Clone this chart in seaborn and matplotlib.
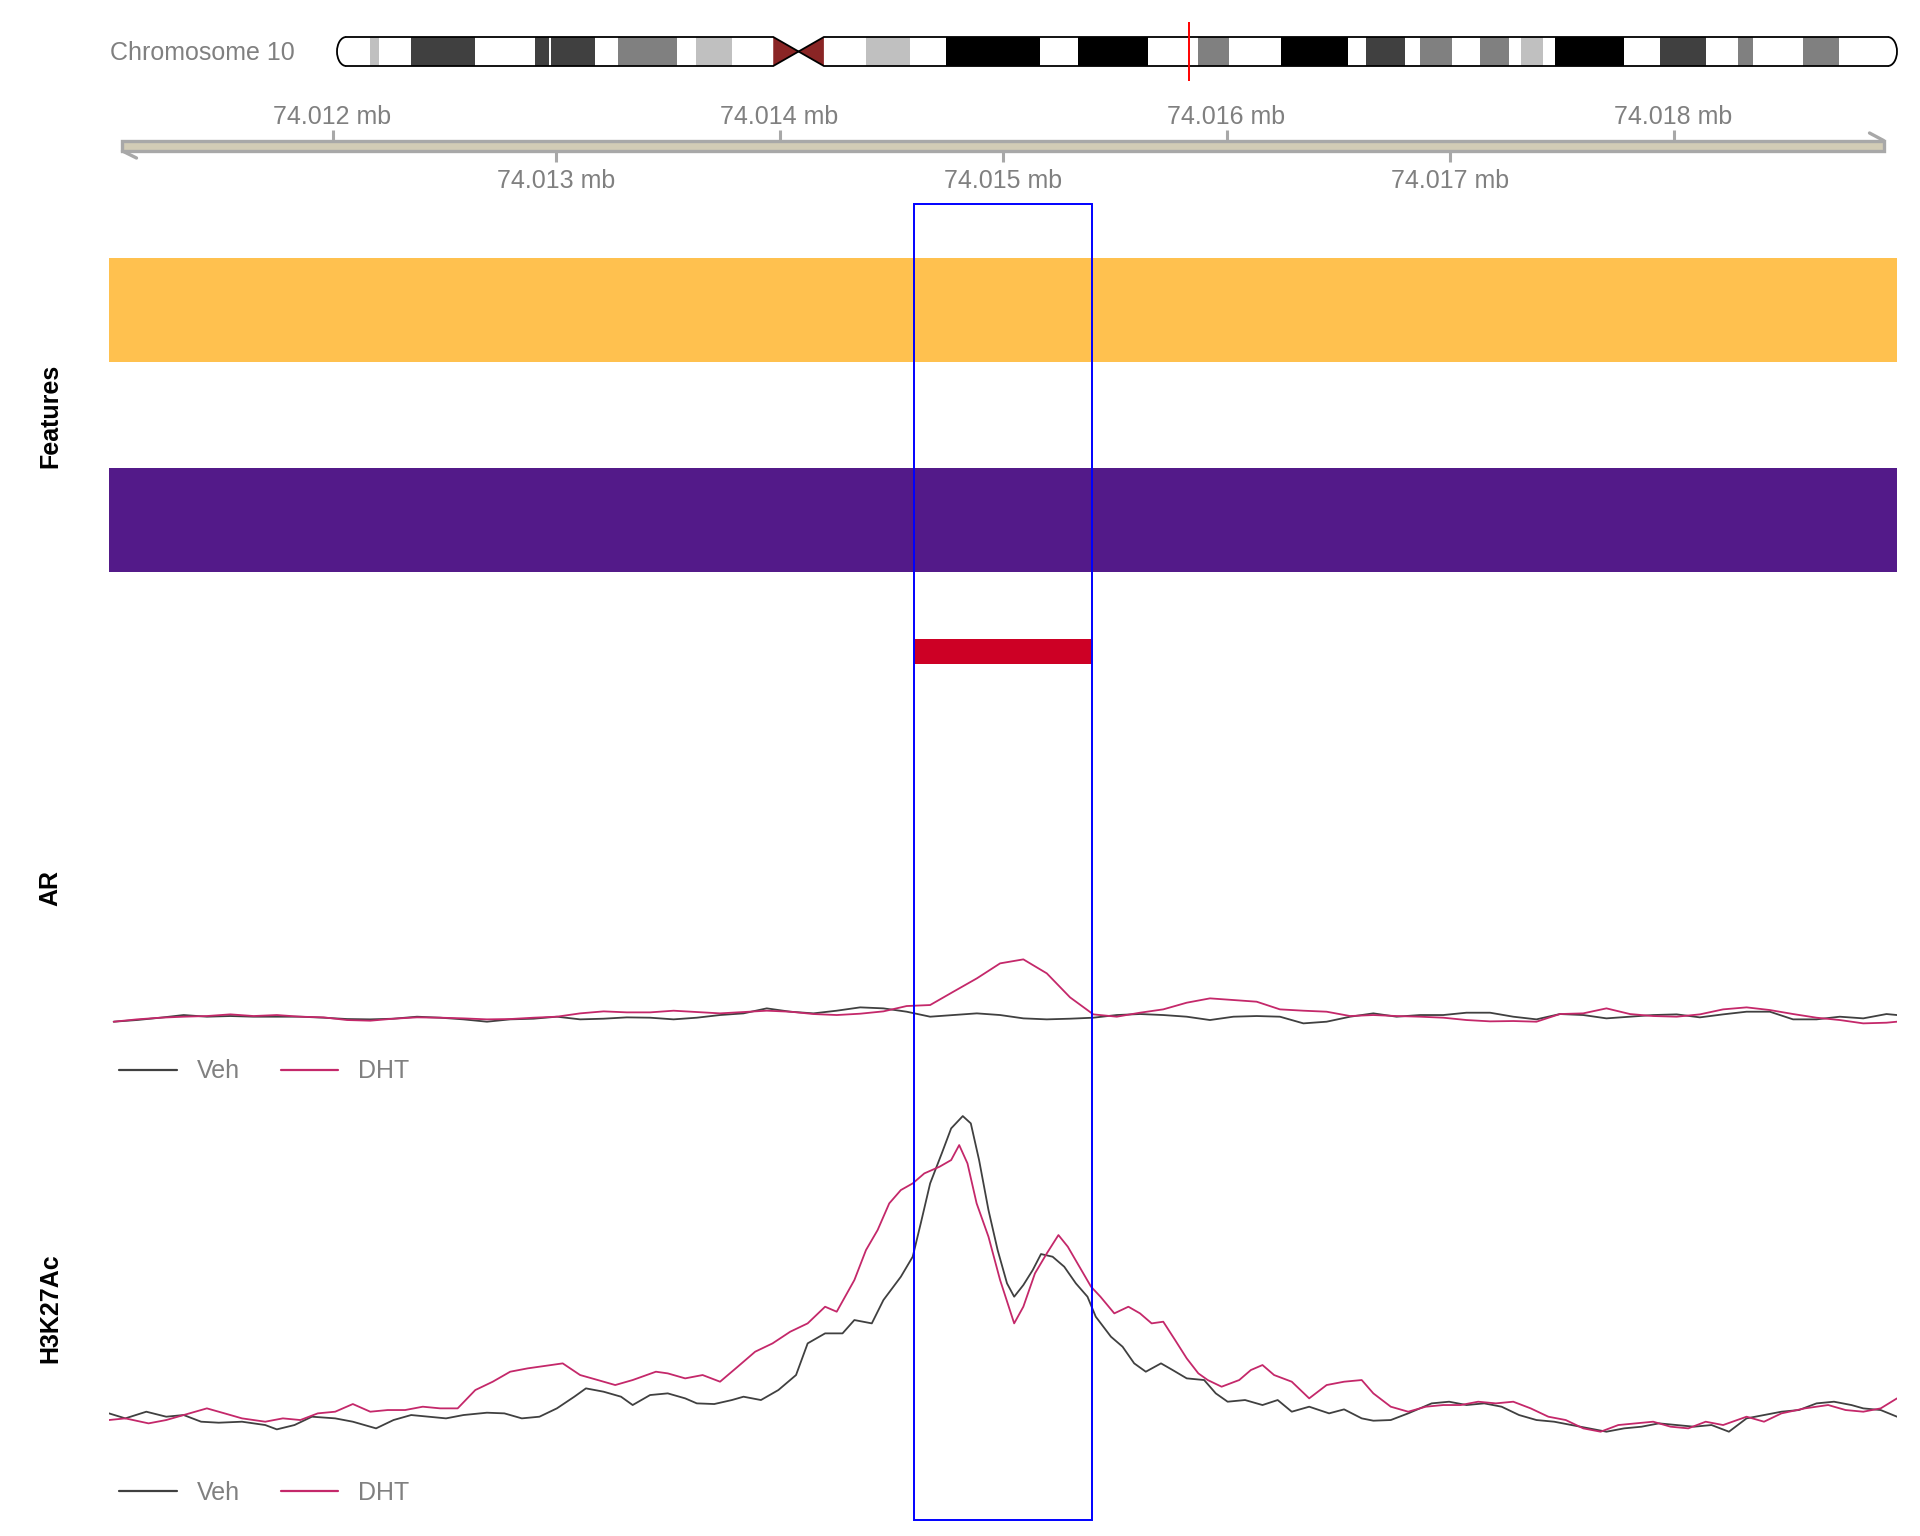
#!/usr/bin/env python3
# -*- coding: utf-8 -*-

import numpy as np
import pandas as pd
import matplotlib
matplotlib.use("Agg")
import matplotlib.pyplot as plt
from matplotlib.patches import Rectangle, Polygon, Arc
from matplotlib.lines import Line2D
import seaborn as sns

# ---- data ------------------------------------------------------------------
chrom_label = "Chromosome 10"
chrom_len = 135.53  # Mb (hg19 chr10)

# cytobands in Mb, only stained bands (gneg is left white)
band_start = [2.87, 6.43, 17.2, 18.6, 24.4, 31.2, 46.0, 52.9, 64.4, 74.8, 82.0,
              89.4, 94.1, 99.3, 102.9, 105.8, 114.9, 121.7, 127.4]
band_end = [3.65, 12.0, 18.4, 22.4, 29.5, 34.3, 49.8, 61.1, 70.5, 77.5, 87.8,
            92.8, 96.9, 101.8, 104.8, 111.8, 118.9, 123.0, 130.5]
band_stain = ["gpos25", "gpos75", "gpos75", "gpos75", "gpos50", "gpos25", "gpos25",
              "gpos100", "gpos100", "gpos50", "gpos100", "gpos75", "gpos50", "gpos50",
              "gpos25", "gpos100", "gpos75", "gpos50", "gpos50"]
cen_start, cen_end = 37.9, 42.3

win_start, win_end = 74011000, 74019000
tick_pos = [74012000, 74013000, 74014000, 74015000, 74016000, 74017000, 74018000]

feat_start = [74010500, 74010500, 74014600]
feat_end = [74019500, 74019500, 74015400]

hl_start, hl_end = 74014600, 74015400

samples = ["Veh", "DHT"]

# AR coverage (offset from window start in bp)
ar_offset = [21, 125, 230, 334, 438, 543, 647, 751, 856, 960,
             1065, 1169, 1273, 1378, 1482, 1586, 1691, 1795, 1900, 2004,
             2108, 2213, 2317, 2421, 2526, 2630, 2734, 2839, 2943, 3048,
             3152, 3256, 3361, 3465, 3569, 3674, 3778, 3883, 3987, 4091,
             4196, 4300, 4404, 4509, 4613, 4717, 4822, 4926, 5031, 5135,
             5239, 5344, 5448, 5553, 5657, 5761, 5866, 5970, 6074, 6179,
             6283, 6387, 6492, 6596, 6700, 6805, 6909, 7014, 7118, 7222,
             7327, 7431, 7535, 7640, 7744, 7849, 7953, 8000]
ar_veh = [1.5, 2.0, 2.7, 3.5, 3.0, 3.2, 3.0, 3.0, 3.0, 2.7,
          2.3, 2.2, 2.4, 3.0, 2.7, 2.2, 1.5, 2.2, 2.4, 3.0,
          2.2, 2.4, 2.8, 2.7, 2.2, 2.7, 3.5, 4.0, 5.5, 4.5,
          4.0, 4.8, 5.8, 5.5, 4.5, 3.0, 3.5, 4.0, 3.5, 2.5,
          2.2, 2.4, 2.7, 3.5, 3.8, 3.5, 3.0, 2.0, 3.0, 3.2,
          3.0, 1.0, 1.5, 3.0, 4.0, 3.0, 3.5, 3.5, 4.2, 4.2,
          3.0, 2.2, 3.8, 3.5, 2.5, 3.0, 3.5, 3.7, 2.8, 3.7,
          4.5, 4.5, 2.2, 2.2, 3.0, 2.5, 3.8, 3.5]
ar_dht = [1.5, 2.2, 2.7, 3.0, 3.2, 3.7, 3.2, 3.5, 3.0, 2.8,
          2.0, 1.8, 2.4, 2.8, 2.7, 2.5, 2.2, 2.3, 2.7, 3.0,
          4.0, 4.6, 4.3, 4.3, 4.8, 4.4, 4.0, 4.4, 4.8, 4.5,
          3.8, 3.5, 3.9, 4.6, 6.2, 6.5, 10.5, 14.5, 19.0, 20.2,
          16.0, 8.8, 3.7, 3.0, 4.2, 5.2, 7.2, 8.5, 8.0, 7.5,
          5.2, 4.8, 4.5, 3.2, 3.5, 3.2, 3.0, 2.7, 2.0, 1.6,
          1.7, 1.5, 3.8, 4.0, 5.5, 3.8, 3.2, 3.0, 3.7, 5.2,
          5.8, 5.0, 3.8, 2.7, 2.0, 1.0, 1.2, 1.5]

# H3K27Ac coverage
h3_veh_offset = [0, 73, 167, 256, 334, 412, 491, 595, 699, 751,
                 830, 908, 1012, 1091, 1195, 1273, 1352, 1430, 1508, 1586,
                 1691, 1769, 1847, 1926, 2004, 2082, 2134, 2213, 2291, 2343,
                 2421, 2500, 2578, 2630, 2708, 2787, 2839, 2917, 2995, 3074,
                 3126, 3204, 3282, 3335, 3413, 3465, 3543, 3596, 3632, 3674,
                 3726, 3768, 3820, 3856, 3893, 3935, 3976, 4018, 4050, 4091,
                 4133, 4170, 4222, 4274, 4326, 4378, 4415, 4483, 4535, 4587,
                 4639, 4707, 4759, 4822, 4900, 4952, 5005, 5083, 5161, 5229,
                 5292, 5370, 5459, 5526, 5605, 5657, 5735, 5813, 5918, 5996,
                 6074, 6153, 6231, 6309, 6387, 6466, 6544, 6622, 6700, 6779,
                 6857, 6935, 7014, 7092, 7170, 7248, 7327, 7405, 7483, 7561,
                 7640, 7718, 7796, 7849, 7927, 8000]
h3_veh = [7.0, 5.5, 7.5, 6.0, 6.5, 4.5, 4.2, 4.5, 3.5, 2.2,
          3.5, 6.0, 5.5, 4.5, 2.5, 5.0, 6.5, 6.0, 5.5, 6.5,
          7.2, 7.0, 5.5, 6.0, 8.5, 12.0, 14.5, 13.5, 12.0, 9.5,
          12.5, 13.0, 11.5, 10.0, 9.8, 11.0, 12.0, 11.0, 14.0, 18.5,
          28.0, 31.0, 31.0, 35.0, 34.0, 41.0, 48.0, 54.0, 64.0, 76.0,
          85.0, 92.5, 96.2, 94.0, 83.0, 68.0, 56.0, 46.0, 42.0, 45.5,
          50.0, 54.8, 54.0, 51.0, 46.0, 42.0, 36.0, 30.0, 27.0, 22.0,
          19.5, 22.0, 20.0, 17.5, 17.0, 13.0, 10.5, 11.0, 9.5, 11.0,
          7.5, 9.0, 7.0, 8.2, 5.5, 4.8, 5.0, 7.0, 10.0, 10.5,
          9.5, 10.0, 9.0, 6.5, 5.0, 4.5, 3.5, 2.5, 1.5, 2.5,
          3.0, 4.0, 3.5, 3.0, 3.5, 1.5, 5.5, 6.5, 7.5, 8.0,
          10.0, 10.5, 9.5, 8.5, 8.0, 6.0]
h3_dht_offset = [0, 73, 177, 256, 334, 438, 517, 595, 699, 778,
                 856, 934, 1012, 1091, 1169, 1247, 1325, 1404, 1482, 1560,
                 1639, 1717, 1795, 1873, 1978, 2030, 2108, 2187, 2265, 2343,
                 2447, 2500, 2578, 2656, 2734, 2813, 2891, 2969, 3048, 3126,
                 3204, 3256, 3335, 3387, 3439, 3491, 3543, 3596, 3648, 3716,
                 3768, 3804, 3841, 3882, 3935, 3987, 4050, 4091, 4143, 4196,
                 4248, 4290, 4342, 4394, 4436, 4498, 4561, 4613, 4665, 4717,
                 4770, 4822, 4874, 4916, 4978, 5057, 5109, 5161, 5213, 5292,
                 5370, 5448, 5526, 5605, 5657, 5735, 5813, 5892, 5970, 6048,
                 6126, 6205, 6283, 6361, 6440, 6518, 6596, 6674, 6753, 6831,
                 6909, 6987, 7066, 7144, 7222, 7327, 7405, 7483, 7588, 7692,
                 7770, 7849, 7927, 8000]
h3_dht = [5.0, 5.5, 4.0, 5.0, 6.5, 8.5, 7.0, 5.5, 4.5, 5.5,
          5.0, 7.0, 7.5, 9.8, 7.5, 8.0, 8.0, 9.0, 8.5, 8.5,
          14.0, 16.5, 19.5, 20.5, 21.5, 22.0, 18.5, 17.0, 15.5, 17.0,
          19.5, 19.0, 17.5, 18.5, 16.5, 21.0, 25.5, 28.0, 31.5, 34.0,
          39.0, 37.5, 47.0, 56.0, 62.0, 70.0, 74.0, 76.0, 79.0, 81.0,
          83.0, 87.5, 82.0, 70.0, 60.0, 47.0, 34.0, 39.0, 49.0, 55.0,
          60.5, 57.0, 51.0, 45.0, 42.0, 37.0, 39.0, 37.0, 34.0, 34.5,
          29.0, 23.5, 19.0, 17.0, 15.0, 17.0, 20.0, 21.5, 18.5, 16.5,
          11.5, 15.5, 16.5, 17.0, 13.0, 9.0, 7.5, 9.0, 9.5, 9.5,
          10.5, 10.0, 10.5, 8.5, 6.0, 5.0, 2.5, 1.5, 3.5, 4.0,
          4.5, 3.0, 2.5, 4.5, 3.5, 6.0, 4.5, 7.0, 8.5, 9.5,
          8.0, 7.5, 8.5, 11.5]

# ---- styles ----------------------------------------------------------------
W, H = 1920, 1536
GREY_TXT = "#808080"
AXIS_COL = "#A8A8A8"
STAIN_COL = {"gpos25": "#C0C0C0", "gpos50": "#808080", "gpos75": "#404040", "gpos100": "#000000"}
CEN_COL = "#8A2525"
FEATURE_COLORS = ["#FFC14F", "#531A89", "#CD0025"]
FEATURE_Y = [310, 520, 651.5]
FEATURE_H = [104, 104, 25]
PALETTE = {"Veh": "#404040", "DHT": "#C4286A"}
FS = 18


def track_df(pos_lists, val_lists):
    frames = []
    for name, off, val in zip(samples, pos_lists, val_lists):
        frames.append(pd.DataFrame({"pos": win_start + np.asarray(off),
                                    "signal": val, "sample": name}))
    return pd.concat(frames, ignore_index=True)


def main():
    sns.set_theme(style="white")
    plt.rcParams['font.family'] = ['Liberation Sans', 'DejaVu Sans']

    fig = plt.figure(figsize=(W / 100, H / 100), dpi=100)

    def add_ax(x0, x1, y0, y1):
        # pixel box (y measured from top)
        ax = fig.add_axes([x0 / W, 1 - y1 / H, (x1 - x0) / W, (y1 - y0) / H])
        ax.set_axis_off()
        return ax

    # ideogram
    ax_id = add_ax(337, 1897, 15, 90)
    ax_id.set_xlim(0, chrom_len)
    ax_id.set_ylim(90, 15)
    top, bot = 37, 66
    mid = (top + bot) / 2
    widths = [e - s for s, e in zip(band_start, band_end)]
    ax_id.bar(band_start, bot - top, width=widths, bottom=top, align='edge',
              color=[STAIN_COL[s] for s in band_stain], linewidth=0)
    cen_mid = (cen_start + cen_end) / 2
    ax_id.add_patch(Polygon([(cen_start, top), (cen_mid, mid), (cen_start, bot)],
                            closed=True, fc=CEN_COL, ec='none'))
    ax_id.add_patch(Polygon([(cen_end, top), (cen_mid, mid), (cen_end, bot)],
                            closed=True, fc=CEN_COL, ec='none'))
    r = 0.8
    lw_o = 1.3
    for yy in (top, bot):
        ax_id.plot([r, cen_start, cen_mid, cen_end, chrom_len - r], [yy, yy, mid, yy, yy],
                   color='black', lw=lw_o, solid_joinstyle='miter')
    ax_id.add_patch(Arc((r, mid), 2 * r, bot - top, theta1=90, theta2=270,
                        color='black', lw=lw_o, clip_on=False))
    ax_id.add_patch(Arc((chrom_len - r, mid), 2 * r, bot - top, theta1=-90, theta2=90,
                        color='black', lw=lw_o, clip_on=False))
    ax_id.vlines((win_start + win_end) / 2 / 1e6, 22, 81, color='red', lw=1.4)
    fig.text(110 / W, 1 - 53.5 / H, chrom_label, ha='left', va='center',
             color=GREY_TXT, fontsize=FS)

    # genome axis
    ax_gx = add_ax(109, 1897, 95, 200)
    ax_gx.set_xlim(win_start, win_end)
    ax_gx.set_ylim(200, 95)
    bar_a, bar_b = win_start + 60, win_end - 60
    ax_gx.add_patch(Rectangle((bar_a, 140.5), bar_b - bar_a, 10.5, fc='#D2CCB6',
                              ec=AXIS_COL, lw=2.4))
    ax_gx.plot([bar_a, bar_a + 63], [151, 158], color=AXIS_COL, lw=2.4, solid_capstyle='round')
    ax_gx.plot([bar_b, bar_b - 63], [140.5, 133], color=AXIS_COL, lw=2.4, solid_capstyle='round')
    for i, t in enumerate(tick_pos):
        up = (i % 2 == 0)
        y0, y1, ylab = (130, 140.5, 116.5) if up else (151, 162, 180.5)
        ax_gx.vlines(t, y0, y1, color=AXIS_COL, lw=2.2)
        ax_gx.text(t, ylab, f"{t / 1e6:.3f} mb", ha='center', va='center',
                   color=GREY_TXT, fontsize=FS)

    # features
    ax_ft = add_ax(109, 1897, 204, 680)
    ax_ft.set_xlim(win_start, win_end)
    ax_ft.set_ylim(680, 204)
    ax_ft.barh(FEATURE_Y, [e - s for s, e in zip(feat_start, feat_end)], left=feat_start,
               height=FEATURE_H, color=FEATURE_COLORS, linewidth=0)

    # AR track
    ar = track_df([ar_offset, ar_offset], [ar_veh, ar_dht])
    ax_ar = add_ax(109, 1897, 926.7, 1036.7)
    sns.lineplot(data=ar, x='pos', y='signal', hue='sample', hue_order=samples,
                 palette=PALETTE, estimator=None, lw=1.3, legend=False, ax=ax_ar)
    ax_ar.set_xlim(win_start, win_end)
    ax_ar.set_ylim(-3, 30)
    ax_ar.set_axis_off()

    # H3K27Ac track
    h3 = track_df([h3_veh_offset, h3_dht_offset], [h3_veh, h3_dht])
    ax_h3 = add_ax(109, 1897, 1103.4, 1446.7)
    sns.lineplot(data=h3, x='pos', y='signal', hue='sample', hue_order=samples,
                 palette=PALETTE, estimator=None, lw=1.3, legend=False, ax=ax_h3)
    ax_h3.set_xlim(win_start, win_end)
    ax_h3.set_ylim(-3, 100)
    ax_h3.set_axis_off()

    # legends
    handles = [Line2D([0], [0], color=PALETTE[s], lw=1.6) for s in samples]
    for ax, ly in ((ax_ar, 1071.5), (ax_h3, 1492.5)):
        ax.legend(handles, samples, loc='center left',
                  bbox_to_anchor=(119 / W, 1 - ly / H), bbox_transform=fig.transFigure,
                  ncol=2, frameon=False, handlelength=2.3, handletextpad=0.8,
                  columnspacing=1.65, borderpad=0, borderaxespad=0,
                  labelcolor=GREY_TXT, fontsize=FS)

    # track titles
    for label, y in (("Features", 416), ("AR", 888), ("H3K27Ac", 1308)):
        fig.text(50 / W, 1 - y / H, label, rotation=90, fontweight='bold',
                 fontsize=FS, ha='center', va='center', color='black')

    # highlight box
    ax_hl = add_ax(109, 1897, 204, 1520)
    ax_hl.set_xlim(win_start, win_end)
    ax_hl.set_ylim(0, 1)
    ax_hl.add_patch(Rectangle((hl_start, 0), hl_end - hl_start, 1, fill=False,
                              ec='#0000FF', lw=1.4, clip_on=False))

    fig.savefig("out.png", dpi=100)


if __name__ == "__main__":
    main()
